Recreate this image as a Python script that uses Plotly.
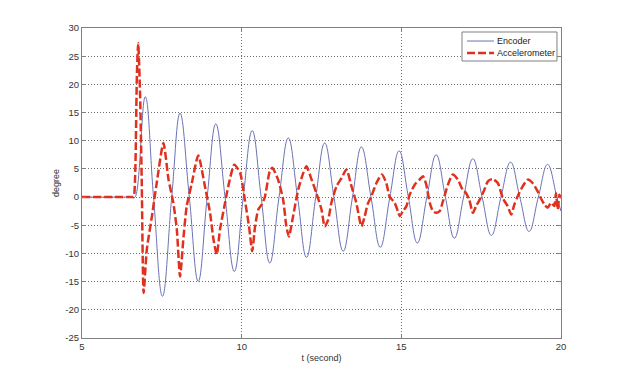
import plotly.graph_objects as go

# ---- data ----
enc_t = [5.0, 6.0, 6.60, 6.66, 6.98, 7.24, 7.52, 7.81, 8.07, 8.36, 8.64, 8.92, 9.19, 9.48, 9.77,
         10.05, 10.33, 10.61, 10.88, 11.17, 11.46, 11.75, 12.03, 12.32, 12.60, 12.89, 13.18,
         13.47, 13.75, 14.05, 14.34, 14.64, 14.93, 15.22, 15.50, 15.80, 16.09, 16.38, 16.66,
         16.95, 17.24, 17.53, 17.82, 18.12, 18.42, 18.71, 19.00, 19.29, 19.58, 19.87, 20.0]
enc_v = [0, 0, 0, 0, 17.8, 0, -17.6, 0, 14.9, 0, -14.95, 0, 13.0, 0, -13.2,
         0, 11.8, 0, -11.7, 0, 10.5, 0, -10.7, 0, 9.6, 0, -9.6,
         0, 8.9, 0, -8.9, 0, 8.2, 0, -8.15, 0, 7.5, 0, -7.3,
         0, 6.8, 0, -6.8, 0, 6.2, 0, -6.1, 0, 5.8, 0, -2.5]

acc_t = [5.0, 6.0, 6.58, 6.62, 6.67, 6.72, 6.76, 6.82, 6.87, 6.93, 7.03, 7.19, 7.34, 7.55, 7.71, 7.86,
         7.97, 8.07, 8.18, 8.28, 8.44, 8.64, 8.85, 9.01, 9.12, 9.22, 9.32, 9.48, 9.58, 9.77,
         9.95, 10.10, 10.23, 10.33, 10.42, 10.52, 10.63, 10.73, 10.88, 10.96, 11.14, 11.30,
         11.40, 11.48, 11.61, 11.77, 11.93, 12.03, 12.19, 12.34, 12.50, 12.60, 12.71, 12.81,
         12.97, 13.13, 13.28, 13.44, 13.59, 13.75, 13.85, 13.95, 14.06, 14.22, 14.39, 14.53,
         14.63, 14.79, 14.89, 14.95, 15.05, 15.16, 15.26, 15.42, 15.57, 15.68, 15.78, 15.89,
         15.99, 16.09, 16.20, 16.30, 16.46, 16.61, 16.77, 16.92, 17.03, 17.13, 17.24, 17.34,
         17.45, 17.60, 17.71, 17.86, 18.02, 18.18, 18.33, 18.44, 18.54, 18.64, 18.80, 18.96,
         19.11, 19.27, 19.37, 19.48, 19.58, 19.69, 19.79, 19.84, 19.90, 19.95, 20.0]
acc_v = [0, 0, 0, 0, 5, 22, 27.3, 18, 3, -17, -9.3, -3.4, 2.5, 9.6, 3.1, -1.0,
         -5.8, -14.1, -7.0, -1.6, 2.5, 7.4, 1.9, -2.8, -7.6, -10.2, -5.8, -1.0, 1.9, 5.75,
         4.3, -0.5, -5.2, -9.6, -5.2, -2.2, -1.3, 0.1, 4.6, 5.2, 3.1, -0.5,
         -5.2, -7.0, -3.4, 1.3, 4.3, 5.45, 3.1, 0.7, -2.2, -5.2, -4.0, -1.0,
         1.9, 3.4, 4.9, 1.9, -1.0, -5.2, -3.5, -1.2, 0.1, 2.5, 4.0, 2.5,
         0.1, -1.0, -2.5, -3.4, -2.5, -1.6, 0.4, 2.2, 3.1, 3.7, 2.2, -1.0,
         -2.5, -2.8, -2.5, -0.8, 2.2, 4.0, 3.1, 1.3, 0.7, -0.5, -2.8, -1.6,
         -0.5, 1.3, 2.8, 3.2, 2.5, -0.2, -1.6, -3.1, -1.3, 0.1, 1.9, 3.1,
         2.5, 1.0, -0.2, -1.3, -1.9, -1.0, -1.6, 0.7, -2.2, 0.4, -0.2]

x_ticks = [5, 10, 15, 20]
y_ticks = [-25, -20, -15, -10, -5, 0, 5, 10, 15, 20, 25, 30]
series_names = ["Encoder", "Accelerometer"]

ENC_COLOR = "#6a72b4"
ACC_COLOR = "#e0301e"
ACC_DASH = "8px,3px"

fig = go.Figure()
fig.add_trace(go.Scatter(x=enc_t, y=enc_v, mode="lines", name=series_names[0],
                         line=dict(color=ENC_COLOR, width=1, shape="spline", smoothing=1.2)))
fig.add_trace(go.Scatter(x=acc_t, y=acc_v, mode="lines", name=series_names[1],
                         line=dict(color=ACC_COLOR, width=2.5, dash=ACC_DASH,
                                   shape="spline", smoothing=0.6)))

axis_common = dict(
    showline=True, linecolor="#808080", linewidth=1, mirror="ticks",
    ticks="inside", ticklen=4, tickcolor="#808080",
    showgrid=True, gridcolor="#6e6e6e", griddash="1px,2px", gridwidth=1,
    zeroline=False, tickfont=dict(size=9.5, color="#333333"),
)

# compact MATLAB-style legend box (paper coordinates)
lx0, lx1, ly0, ly1 = 0.7933, 0.9916, 0.8935, 0.9871
sample_x0, sample_x1, text_x = 0.8038, 0.8601, 0.8622
row_y = [0.958, 0.919]
shapes = [dict(type="rect", xref="paper", yref="paper", x0=lx0, x1=lx1, y0=ly0, y1=ly1,
               line=dict(color="#808080", width=1), fillcolor="white", layer="above")]
shapes.append(dict(type="line", xref="paper", yref="paper", x0=sample_x0, x1=sample_x1,
                   y0=row_y[0], y1=row_y[0], line=dict(color=ENC_COLOR, width=1), layer="above"))
shapes.append(dict(type="line", xref="paper", yref="paper", x0=sample_x0, x1=sample_x1,
                   y0=row_y[1], y1=row_y[1],
                   line=dict(color=ACC_COLOR, width=2.5, dash=ACC_DASH), layer="above"))
annotations = [dict(text=name, xref="paper", yref="paper", x=text_x, y=yy,
                    xanchor="left", yanchor="middle", showarrow=False,
                    font=dict(size=9, color="#222222"))
               for name, yy in zip(series_names, row_y)]

fig.update_layout(
    width=620, height=381,
    margin=dict(l=82, r=59, t=28, b=43),
    paper_bgcolor="white", plot_bgcolor="white",
    font=dict(family="Liberation Sans, Arial, sans-serif", size=9.5, color="#333333"),
    xaxis=dict(range=[5, 20], tickvals=x_ticks, ticktext=[str(v) for v in x_ticks],
               title=dict(text="t (second)", font=dict(size=9), standoff=3),
               **axis_common),
    yaxis=dict(range=[-25, 30], tickvals=y_ticks, ticktext=[str(v) for v in y_ticks],
               title=dict(text="degree", font=dict(size=9), standoff=4),
               **axis_common),
    showlegend=False,
    shapes=shapes,
    annotations=annotations,
)

fig.write_html("out.html", config={"displayModeBar": False},
               post_script="document.body.style.margin='0';")
